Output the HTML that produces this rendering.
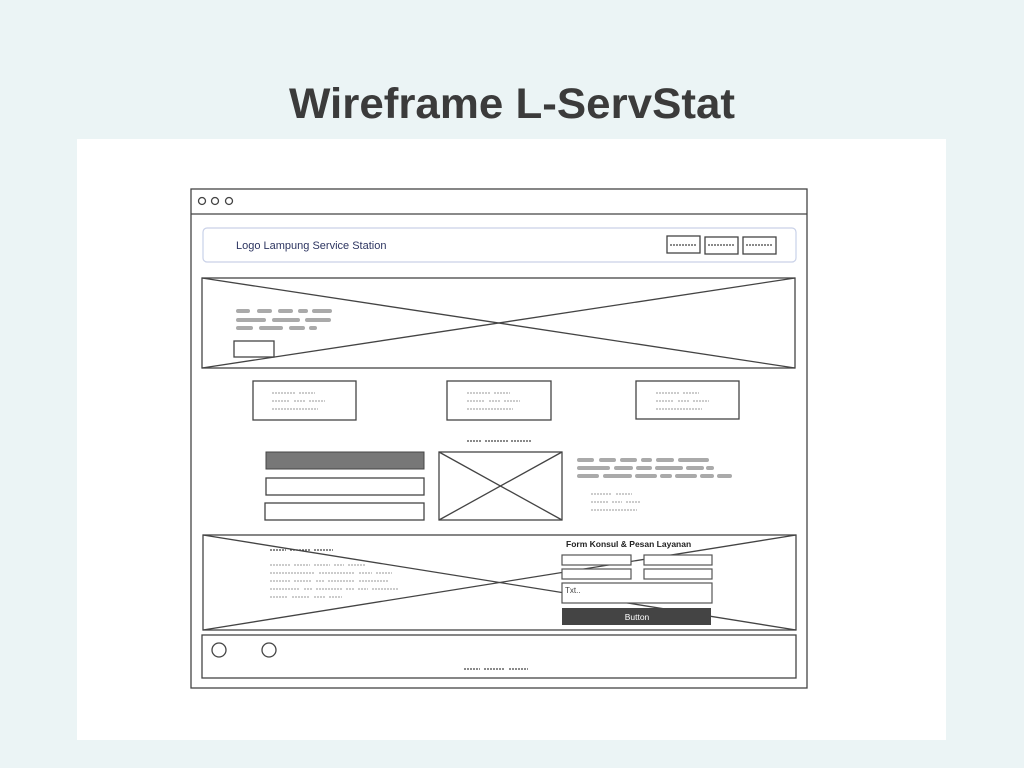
<!DOCTYPE html>
<html><head><meta charset="utf-8"><style>
html,body{margin:0;padding:0;background:#ebf4f5;}
svg{display:block;font-family:"Liberation Sans",sans-serif;}
</style></head><body>
<svg width="1024" height="768" viewBox="0 0 1024 768" xmlns="http://www.w3.org/2000/svg">
<rect width="1024" height="768" fill="#ebf4f5"/>
<text x="289" y="118" font-size="43" font-weight="bold" fill="#3b3b3b" textLength="446" lengthAdjust="spacingAndGlyphs">Wireframe L-ServStat</text>
<rect x="77" y="139" width="869" height="601" fill="#ffffff"/>
<g fill="none" stroke="#444" stroke-width="1.3">
<rect x="191" y="189" width="616" height="499"/>
<line x1="191" y1="214" x2="807" y2="214"/>
<circle cx="202" cy="201" r="3.5"/><circle cx="215" cy="201" r="3.5"/><circle cx="229" cy="201" r="3.5"/>
<rect x="667" y="236" width="33" height="17"/><rect x="705" y="237" width="33" height="17"/><rect x="743" y="237" width="33" height="17"/>
<rect x="202" y="278" width="593" height="90"/>
<line x1="202" y1="278" x2="795" y2="368"/><line x1="202" y1="368" x2="795" y2="278"/>
<rect x="234" y="341" width="40" height="16" fill="#fff"/>
<rect x="253" y="381" width="103" height="39"/><rect x="447" y="381" width="104" height="39"/><rect x="636" y="381" width="103" height="38"/>
<rect x="266" y="478" width="158" height="17"/><rect x="265" y="503" width="159" height="17"/>
<rect x="439" y="452" width="123" height="68"/>
<line x1="439" y1="452" x2="562" y2="520"/><line x1="439" y1="520" x2="562" y2="452"/>
<rect x="203" y="535" width="593" height="95"/>
<line x1="203" y1="535" x2="796" y2="630"/><line x1="203" y1="630" x2="796" y2="535"/>
<rect x="202" y="635" width="594" height="43"/>
<circle cx="219" cy="650" r="7"/><circle cx="269" cy="650" r="7"/>
</g>
<rect x="203" y="228" width="593" height="34" rx="4" fill="#fff" stroke="#c9d1e8" stroke-width="1.2"/>
<text x="236" y="249" font-size="11" fill="#2d3561">Logo Lampung Service Station</text>
<g fill="none" stroke="#444" stroke-width="1.3">
<rect x="667" y="236" width="33" height="17"/><rect x="705" y="237" width="33" height="17"/><rect x="743" y="237" width="33" height="17"/>
</g>
<rect x="266" y="452" width="158" height="17" fill="#777" stroke="#444"/>
<g fill="#aaa">
<rect x="236" y="309" width="14" height="4" rx="2"/><rect x="257" y="309" width="15" height="4" rx="2"/><rect x="278" y="309" width="15" height="4" rx="2"/><rect x="298" y="309" width="10" height="4" rx="2"/><rect x="312" y="309" width="20" height="4" rx="2"/>
<rect x="236" y="318" width="30" height="4" rx="2"/><rect x="272" y="318" width="28" height="4" rx="2"/><rect x="305" y="318" width="26" height="4" rx="2"/>
<rect x="236" y="326" width="17" height="4" rx="2"/><rect x="259" y="326" width="24" height="4" rx="2"/><rect x="289" y="326" width="16" height="4" rx="2"/><rect x="309" y="326" width="8" height="4" rx="2"/>
<rect x="577" y="458" width="17" height="4" rx="2"/><rect x="599" y="458" width="17" height="4" rx="2"/><rect x="620" y="458" width="17" height="4" rx="2"/><rect x="641" y="458" width="11" height="4" rx="2"/><rect x="656" y="458" width="18" height="4" rx="2"/><rect x="678" y="458" width="31" height="4" rx="2"/>
<rect x="577" y="466" width="33" height="4" rx="2"/><rect x="614" y="466" width="19" height="4" rx="2"/><rect x="636" y="466" width="16" height="4" rx="2"/><rect x="655" y="466" width="28" height="4" rx="2"/><rect x="686" y="466" width="18" height="4" rx="2"/><rect x="706" y="466" width="8" height="4" rx="2"/>
<rect x="577" y="474" width="22" height="4" rx="2"/><rect x="603" y="474" width="29" height="4" rx="2"/><rect x="635" y="474" width="22" height="4" rx="2"/><rect x="660" y="474" width="12" height="4" rx="2"/><rect x="675" y="474" width="22" height="4" rx="2"/><rect x="700" y="474" width="14" height="4" rx="2"/><rect x="717" y="474" width="15" height="4" rx="2"/>
</g>
<g stroke="#999" stroke-width="1" stroke-dasharray="2 1">
<line x1="272" y1="393" x2="295" y2="393"/><line x1="299" y1="393" x2="315" y2="393"/>
<line x1="272" y1="401" x2="290" y2="401"/><line x1="294" y1="401" x2="305" y2="401"/><line x1="309" y1="401" x2="325" y2="401"/>
<line x1="272" y1="409" x2="318" y2="409"/>
<line x1="467" y1="393" x2="490" y2="393"/><line x1="494" y1="393" x2="510" y2="393"/>
<line x1="467" y1="401" x2="485" y2="401"/><line x1="489" y1="401" x2="500" y2="401"/><line x1="504" y1="401" x2="520" y2="401"/>
<line x1="467" y1="409" x2="513" y2="409"/>
<line x1="656" y1="393" x2="679" y2="393"/><line x1="683" y1="393" x2="699" y2="393"/>
<line x1="656" y1="401" x2="674" y2="401"/><line x1="678" y1="401" x2="689" y2="401"/><line x1="693" y1="401" x2="709" y2="401"/>
<line x1="656" y1="409" x2="702" y2="409"/>
<line x1="591" y1="494" x2="612" y2="494"/><line x1="616" y1="494" x2="632" y2="494"/>
<line x1="591" y1="502" x2="608" y2="502"/><line x1="612" y1="502" x2="622" y2="502"/><line x1="626" y1="502" x2="641" y2="502"/>
<line x1="591" y1="510" x2="637" y2="510"/>
<line x1="270" y1="565" x2="290" y2="565"/><line x1="294" y1="565" x2="310" y2="565"/><line x1="314" y1="565" x2="330" y2="565"/><line x1="334" y1="565" x2="344" y2="565"/><line x1="348" y1="565" x2="366" y2="565"/>
<line x1="270" y1="573" x2="315" y2="573"/><line x1="319" y1="573" x2="355" y2="573"/><line x1="359" y1="573" x2="372" y2="573"/><line x1="376" y1="573" x2="392" y2="573"/>
<line x1="270" y1="581" x2="290" y2="581"/><line x1="294" y1="581" x2="312" y2="581"/><line x1="316" y1="581" x2="324" y2="581"/><line x1="328" y1="581" x2="355" y2="581"/><line x1="359" y1="581" x2="388" y2="581"/>
<line x1="270" y1="589" x2="300" y2="589"/><line x1="304" y1="589" x2="312" y2="589"/><line x1="316" y1="589" x2="342" y2="589"/><line x1="346" y1="589" x2="354" y2="589"/><line x1="358" y1="589" x2="368" y2="589"/><line x1="372" y1="589" x2="398" y2="589"/>
<line x1="270" y1="597" x2="288" y2="597"/><line x1="292" y1="597" x2="310" y2="597"/><line x1="314" y1="597" x2="325" y2="597"/><line x1="329" y1="597" x2="342" y2="597"/>
</g>
<g stroke="#444" stroke-width="1.2" stroke-dasharray="2 1">
<line x1="670" y1="245" x2="697" y2="245"/><line x1="708" y1="245" x2="735" y2="245"/><line x1="746" y1="245" x2="773" y2="245"/>
<line x1="467" y1="441" x2="482" y2="441"/><line x1="485" y1="441" x2="508" y2="441"/><line x1="511" y1="441" x2="531" y2="441"/>
<line x1="270" y1="550" x2="286" y2="550"/><line x1="290" y1="550" x2="310" y2="550"/><line x1="314" y1="550" x2="333" y2="550"/>
<line x1="464" y1="669" x2="480" y2="669"/><line x1="484" y1="669" x2="505" y2="669"/><line x1="509" y1="669" x2="528" y2="669"/>
</g>
<text x="566" y="547" font-size="8.5" font-weight="bold" fill="#222">Form Konsul &amp; Pesan Layanan</text>
<g fill="#fff" stroke="#555" stroke-width="1.2">
<rect x="562" y="555" width="69" height="10"/><rect x="644" y="555" width="68" height="10"/>
<rect x="562" y="569" width="69" height="10"/><rect x="644" y="569" width="68" height="10"/>
<rect x="562" y="583" width="150" height="20"/>
</g>
<text x="565" y="593" font-size="8" fill="#444">Txt..</text>
<rect x="562" y="608" width="149" height="17" fill="#444"/>
<text x="637" y="620" font-size="8.5" fill="#fff" text-anchor="middle">Button</text>
</svg>
</body></html>
